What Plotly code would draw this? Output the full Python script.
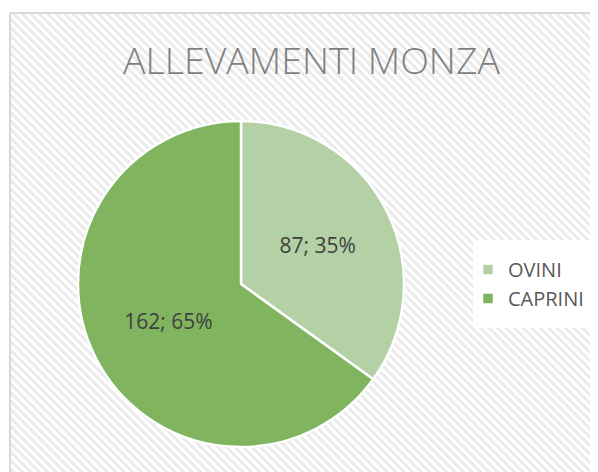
import plotly.graph_objects as go

categories = ["OVINI", "CAPRINI"]
values = [87, 162]
colors = ["#b4d1a5", "#80b45f"]
title_text = "ALLEVAMENTI MONZA"

# figure size (page adds an 8px body margin around it)
W, H = 590, 464
OFF = 8


def px(x):
    return (x - OFF) / W


def py(y):
    return 1 - (y - OFF) / H


fig = go.Figure()

# hatched chart-area background
fig.add_trace(go.Scatter(
    x=[px(10), 1.02, 1.02, px(10), px(10)],
    y=[-0.02, -0.02, py(13), py(13), -0.02],
    mode="lines", fill="toself",
    line=dict(width=0),
    fillcolor="white",
    fillpattern=dict(shape="\\", fgcolor="#d6d6d6", bgcolor="white", size=6, solidity=0.5),
    showlegend=False, hoverinfo="skip",
))

fig.add_trace(go.Pie(
    labels=categories, values=values, sort=False, direction="clockwise", rotation=0,
    marker=dict(colors=colors, line=dict(color="white", width=2.5)),
    texttemplate="%{value}; %{percent:.0%}",
    textposition="inside", insidetextorientation="horizontal",
    textfont=dict(family="Open Sans", size=21, color="#404040"),
    domain=dict(x=[px(78), px(404)], y=[py(447), py(121)]),
    hoverinfo="label+value+percent",
))

fig.update_layout(
    width=W, height=H,
    margin=dict(l=0, r=0, t=0, b=0),
    paper_bgcolor="white", plot_bgcolor="rgba(0,0,0,0)",
    xaxis=dict(range=[0, 1], domain=[0, 1], visible=False, fixedrange=True),
    yaxis=dict(range=[0, 1], domain=[0, 1], visible=False, fixedrange=True),
    title=dict(text=title_text, x=px(311.5), xanchor="center", y=py(61), yanchor="middle",
               font=dict(family="Open Sans", size=37.5, color="#7f7f7f", weight=300)),
    legend=dict(x=px(468), xanchor="left", y=py(284), yanchor="middle",
                bgcolor="rgba(0,0,0,0)", font=dict(family="Open Sans", size=20, color="#595959")),
    shapes=[
        dict(type="line", xref="paper", yref="paper", x0=px(10), x1=1.02, y0=py(13), y1=py(13),
             line=dict(color="#d9d9d9", width=2), layer="above"),
        dict(type="line", xref="paper", yref="paper", x0=px(10), x1=px(10), y0=-0.02, y1=py(13),
             line=dict(color="#d9d9d9", width=2), layer="above"),
        dict(type="rect", xref="paper", yref="paper", x0=px(473), x1=px(597), y0=py(328), y1=py(240),
             fillcolor="white", line=dict(width=0), layer="above"),
    ],
)

fig.write_html("out.html")
